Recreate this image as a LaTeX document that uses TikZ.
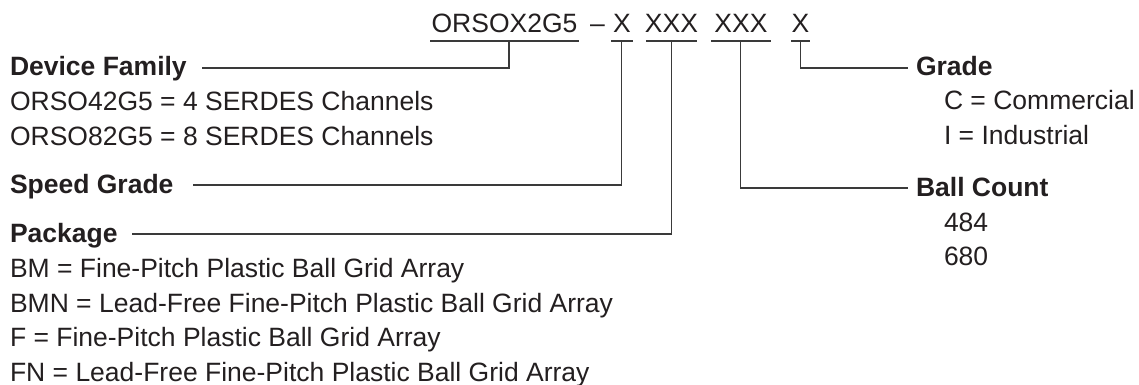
\documentclass[tikz,border=0pt]{standalone}
\usepackage{fontspec}
\setmainfont{Liberation Sans}
\definecolor{ink}{HTML}{231F20}
\definecolor{rule}{HTML}{3A3A3A}
\begin{document}
\begin{tikzpicture}[x=1pt,y=-1pt,
  every node/.style={inner sep=0pt, outer sep=0pt, text=ink, font=\fontsize{26.5}{30}\selectfont},
  lbl/.style={anchor=base west},
  head/.style={anchor=base west, font=\fontsize{26.5}{30}\selectfont\bfseries},
  part/.style={anchor=base},
  conn/.style={draw=rule, line width=1.4pt},
]
\useasboundingbox (0,0) rectangle (1139,385);

% part number
\node[part] (pfam) at (504.5,33) {ORSOX2G5};
\node[part] (pdash) at (597.5,33) {–};
\node[part] (pspd) at (622,33) {X};
\node[part] (ppkg) at (671.5,33) {XXX};
\node[part] (pball) at (741,33) {XXX};
\node[part] (pgrd) at (800.5,33) {X};

% underlines
\coordinate (uf1) at (430,41); \coordinate (uf2) at (579,41);
\coordinate (us1) at (611,41); \coordinate (us2) at (633,41);
\coordinate (up1) at (646,41); \coordinate (up2) at (697,41);
\coordinate (ub1) at (711,41); \coordinate (ub2) at (771,41);
\coordinate (ug1) at (791,41); \coordinate (ug2) at (810,41);
\draw[conn] (uf1) -- (uf2);
\draw[conn] (us1) -- (us2);
\draw[conn] (up1) -- (up2);
\draw[conn] (ub1) -- (ub2);
\draw[conn] (ug1) -- (ug2);

% left labels
\node[head] (df) at (10,76) {Device Family};
\node[lbl] (df1) at (10,110.5) {ORSO42G5 = 4 SERDES Channels};
\node[lbl] (df2) at (10,145) {ORSO82G5 = 8 SERDES Channels};
\node[head] (sg) at (10,193) {Speed Grade};
\node[head] (pk) at (10,242.5) {Package};
\node[lbl] (pk1) at (10,277.5) {BM = Fine-Pitch Plastic Ball Grid Array};
\node[lbl] (pk2) at (10,312) {BMN = Lead-Free Fine-Pitch Plastic Ball Grid Array};
\node[lbl] (pk3) at (10,346.5) {F = Fine-Pitch Plastic Ball Grid Array};
\node[lbl] (pk4) at (10,381) {FN = Lead-Free Fine-Pitch Plastic Ball Grid Array};

% right labels
\node[head] (gr) at (916,75.5) {Grade};
\node[lbl] (gr1) at (944,110) {C = Commercial};
\node[lbl] (gr2) at (944,144.5) {I = Industrial};
\node[head] (bc) at (916,196.5) {Ball Count};
\node[lbl] (bc1) at (944,231) {484};
\node[lbl] (bc2) at (944,265.5) {680};

% connector ends
\coordinate (fT) at (509,41);  \coordinate (fE) at (202,68);
\coordinate (sT) at (621.5,41); \coordinate (sE) at (193,185);
\coordinate (pT) at (671.5,41); \coordinate (pE) at (132,234);
\coordinate (bT) at (740.5,41); \coordinate (bE) at (908,188);
\coordinate (gT) at (800.5,41); \coordinate (gE) at (908,68);

\draw[conn] (fT) |- (fE);
\draw[conn] (sT) |- (sE);
\draw[conn] (pT) |- (pE);
\draw[conn] (bT) |- (bE);
\draw[conn] (gT) |- (gE);
\end{tikzpicture}
\end{document}
